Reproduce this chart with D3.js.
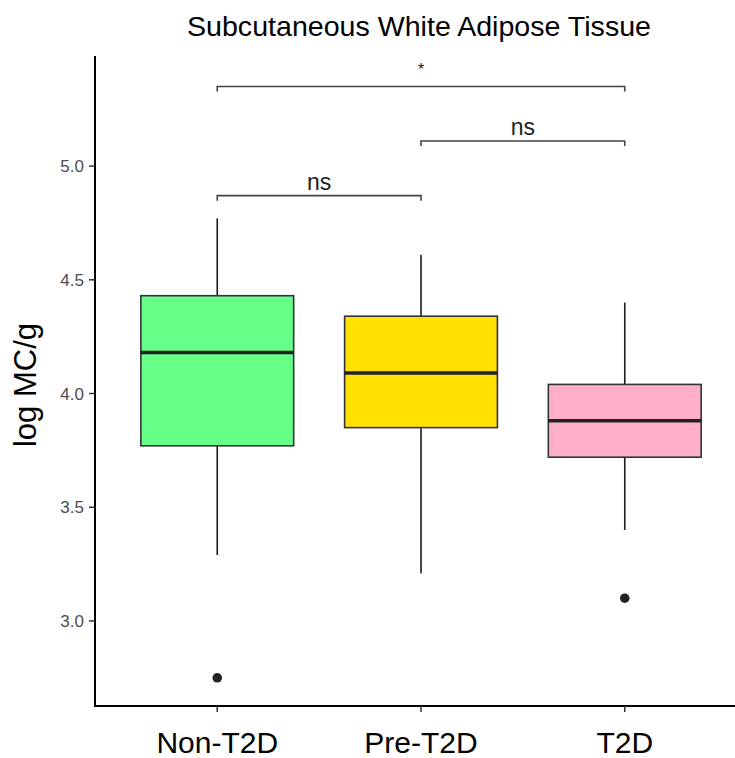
<!DOCTYPE html>
<head>
    <meta charset="UTF-8">
    <title>Subcutaneous White Adipose Tissue</title>
</head>
<style>
    body {
        margin: 0;
        background: #fff;
        font-family: "Liberation Sans", Arial, sans-serif;
    }

    .tick-label {
        font-size: 17px;
        fill: #4d4d4d;
    }

    .group-label {
        font-size: 30px;
        fill: #000;
    }

    .sig {
        font-size: 23px;
        fill: #222;
        text-anchor: middle;
    }
</style>
<body>

    <script src="https://cdn.jsdelivr.net/npm/d3@7"></script>
    <script>
        // box summaries
        var groups = ["Non-T2D", "Pre-T2D", "T2D"];
        var whiskerLow = [3.29, 3.21, 3.40];
        var q1 = [3.77, 3.85, 3.72];
        var median = [4.18, 4.09, 3.88];
        var q3 = [4.43, 4.34, 4.04];
        var whiskerHigh = [4.77, 4.61, 4.40];
        var outliers = [[2.75], [], [3.10]];
        var colors = ["#66ff88", "#ffe000", "#ffb0c8"];

        // significance brackets
        var comparisons = [["Non-T2D", "Pre-T2D"], ["Pre-T2D", "T2D"], ["Non-T2D", "T2D"]];
        var compLabels = ["ns", "ns", "*"];
        var compY = [4.87, 5.11, 5.35];

        var yTicks = [3.0, 3.5, 4.0, 4.5, 5.0];

        var width = 735, height = 758;

        var svg = d3.select("body").append("svg")
            .attr("width", width)
            .attr("height", height);

        var x = d3.scalePoint()
            .domain(groups)
            .range([95, 747])
            .padding(0.6);

        var y = d3.scaleLinear()
            .domain([2.626, 5.484])
            .range([706, 56]);

        var boxW = x.step() * 0.75;

        var data = groups.map(function(g, i) {
            return {
                group: g,
                lo: whiskerLow[i], q1: q1[i], med: median[i], q3: q3[i], hi: whiskerHigh[i],
                out: outliers[i], color: colors[i]
            };
        });

        // title
        svg.append("text")
            .attr("x", 419)
            .attr("y", 36)
            .attr("text-anchor", "middle")
            .attr("textLength", 464)
            .attr("lengthAdjust", "spacingAndGlyphs")
            .style("font-size", "27.5px")
            .style("fill", "#000")
            .text("Subcutaneous White Adipose Tissue");

        // boxes
        var box = svg.selectAll(".box")
            .data(data)
            .enter().append("g")
            .attr("class", "box")
            .attr("transform", function(d) { return "translate(" + x(d.group) + ",0)"; });

        box.append("line")
            .attr("x1", 0).attr("x2", 0)
            .attr("y1", function(d) { return y(d.hi); })
            .attr("y2", function(d) { return y(d.q3); })
            .attr("stroke", "#1a1a1a")
            .attr("stroke-width", 1.6);

        box.append("line")
            .attr("x1", 0).attr("x2", 0)
            .attr("y1", function(d) { return y(d.q1); })
            .attr("y2", function(d) { return y(d.lo); })
            .attr("stroke", "#1a1a1a")
            .attr("stroke-width", 1.6);

        box.append("rect")
            .attr("x", -boxW / 2)
            .attr("width", boxW)
            .attr("y", function(d) { return y(d.q3); })
            .attr("height", function(d) { return y(d.q1) - y(d.q3); })
            .attr("fill", function(d) { return d.color; })
            .attr("stroke", "#333")
            .attr("stroke-width", 1.6);

        box.append("line")
            .attr("x1", -boxW / 2).attr("x2", boxW / 2)
            .attr("y1", function(d) { return y(d.med); })
            .attr("y2", function(d) { return y(d.med); })
            .attr("stroke", "#222")
            .attr("stroke-width", 3.4);

        box.selectAll(".outlier")
            .data(function(d) { return d.out; })
            .enter().append("circle")
            .attr("class", "outlier")
            .attr("cx", 0)
            .attr("cy", function(v) { return y(v); })
            .attr("r", 4.8)
            .attr("fill", "#222");

        // brackets
        var tip = 5;
        comparisons.forEach(function(c, i) {
            var x1 = x(c[0]), x2 = x(c[1]), yy = y(compY[i]);
            svg.append("path")
                .attr("d", "M" + x1 + "," + (yy + tip) + "V" + yy + "H" + x2 + "V" + (yy + tip))
                .attr("fill", "none")
                .attr("stroke", "#444")
                .attr("stroke-width", 1.6);
            svg.append("text")
                .attr("class", "sig")
                .attr("x", (x1 + x2) / 2)
                .attr("y", compLabels[i] == "*" ? yy - 11 : yy - 6)
                .style("font-size", compLabels[i] == "*" ? "16px" : null)
                .text(compLabels[i]);
        });

        // y axis
        var yAxis = svg.append("g");
        yAxis.append("line")
            .attr("x1", 95).attr("x2", 95)
            .attr("y1", y.range()[1]).attr("y2", y.range()[0] + 1)
            .attr("stroke", "#000")
            .attr("stroke-width", 2);
        yAxis.selectAll(".ytick")
            .data(yTicks)
            .enter().append("line")
            .attr("x1", 89).attr("x2", 95)
            .attr("y1", function(d) { return y(d); })
            .attr("y2", function(d) { return y(d); })
            .attr("stroke", "#333")
            .attr("stroke-width", 1.5);
        yAxis.selectAll(".tick-label")
            .data(yTicks)
            .enter().append("text")
            .attr("class", "tick-label")
            .attr("x", 84)
            .attr("y", function(d) { return y(d); })
            .attr("dy", "0.36em")
            .attr("text-anchor", "end")
            .text(d3.format(".1f"));

        svg.append("text")
            .attr("transform", "translate(36," + 385 + ") rotate(-90)")
            .attr("text-anchor", "middle")
            .style("font-size", "31px")
            .style("fill", "#000")
            .text("log MC/g");

        // x axis
        var xAxis = svg.append("g");
        xAxis.append("line")
            .attr("x1", 94).attr("x2", width)
            .attr("y1", 706).attr("y2", 706)
            .attr("stroke", "#000")
            .attr("stroke-width", 2);
        xAxis.selectAll(".xtick")
            .data(groups)
            .enter().append("line")
            .attr("x1", function(d) { return x(d); })
            .attr("x2", function(d) { return x(d); })
            .attr("y1", 706).attr("y2", 712)
            .attr("stroke", "#333")
            .attr("stroke-width", 1.5);
        xAxis.selectAll(".group-label")
            .data(groups)
            .enter().append("text")
            .attr("class", "group-label")
            .attr("x", function(d) { return x(d); })
            .attr("y", 753)
            .attr("text-anchor", "middle")
            .text(function(d) { return d; });

    </script>
</body>
</html>
